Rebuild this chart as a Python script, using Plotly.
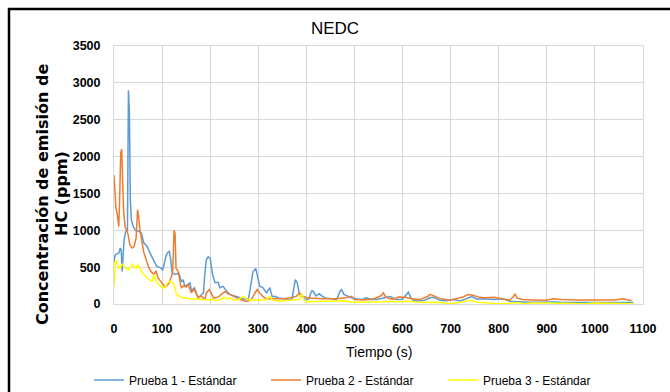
import plotly.graph_objects as go

# ---- data ----
t1 = [0, 2, 5, 10, 13, 15, 17, 19, 21, 24, 28, 30, 32, 34, 36, 40, 45, 52, 57, 62, 69, 75, 78, 83, 89, 97, 101, 105, 108, 112, 115, 118, 121, 128, 135, 140, 144, 147, 153, 158, 161, 167, 175, 182, 186, 189, 192, 196, 200, 205, 210, 217, 220, 227, 234, 241, 252, 262, 272, 280, 286, 289, 295, 298, 303, 310, 317, 324, 329, 335, 342, 352, 362, 370, 374, 377, 381, 385, 390, 399, 405, 411, 414, 420, 427, 432, 439, 450, 463, 470, 473, 478, 485, 494, 504, 515, 525, 535, 546, 560, 574, 588, 600, 612, 617, 622, 636, 645, 657, 665, 678, 690, 706, 720, 733, 744, 755, 768, 790, 809, 823, 840, 860, 880, 900, 915, 930, 962, 1000, 1040, 1080]
v1 = [560, 660, 680, 690, 760, 730, 440, 700, 870, 980, 1000, 2900, 2600, 1400, 1150, 1050, 1000, 985, 960, 830, 780, 690, 650, 580, 510, 490, 465, 560, 650, 700, 715, 600, 420, 400, 420, 300, 330, 240, 270, 285, 175, 220, 85, 120, 150, 420, 600, 640, 620, 400, 290, 290, 220, 240, 175, 130, 110, 85, 65, 80, 330, 440, 480, 375, 240, 220, 150, 220, 100, 105, 83, 70, 60, 65, 195, 330, 286, 150, 105, 60, 70, 175, 175, 110, 140, 110, 83, 70, 60, 175, 195, 130, 110, 83, 70, 60, 83, 60, 60, 83, 100, 60, 65, 160, 90, 50, 40, 50, 85, 90, 50, 45, 60, 40, 70, 100, 65, 70, 60, 70, 38, 30, 25, 25, 30, 28, 25, 23, 25, 20, 20]

t2 = [0, 2, 4, 6, 8, 10, 12, 14, 16, 18, 20, 23, 26, 29, 33, 38, 42, 46, 49, 51, 54, 58, 62, 67, 72, 78, 83, 87, 92, 98, 102, 106, 110, 114, 118, 122, 125, 127, 129, 133, 140, 146, 150, 154, 158, 161, 165, 170, 175, 180, 186, 189, 192, 198, 202, 207, 214, 220, 227, 231, 236, 241, 250, 262, 276, 286, 293, 298, 303, 310, 317, 324, 335, 350, 365, 379, 386, 392, 405, 420, 435, 460, 480, 494, 500, 520, 540, 556, 560, 565, 574, 582, 591, 605, 620, 636, 653, 657, 668, 680, 698, 712, 726, 736, 746, 757, 770, 790, 809, 823, 831, 834, 838, 850, 870, 899, 913, 930, 960, 1000, 1040, 1059, 1070, 1076]
v2 = [1750, 1450, 1300, 1250, 1100, 1050, 1500, 2050, 2100, 1600, 1250, 1050, 1000, 950, 800, 760, 780, 900, 1280, 1200, 1000, 820, 700, 600, 500, 430, 400, 450, 350, 300, 260, 230, 250, 280, 350, 420, 1000, 950, 480, 450, 220, 250, 230, 265, 200, 150, 200, 160, 85, 110, 80, 60, 150, 195, 150, 80, 90, 110, 150, 170, 140, 130, 100, 60, 35, 65, 150, 195, 150, 100, 70, 70, 60, 70, 80, 105, 150, 105, 80, 70, 70, 70, 80, 105, 60, 55, 70, 115, 150, 95, 70, 65, 95, 90, 70, 60, 105, 130, 105, 70, 50, 70, 95, 130, 120, 95, 85, 90, 70, 50, 105, 140, 80, 60, 55, 50, 70, 60, 55, 55, 55, 70, 55, 45]

t3 = [0, 3, 6, 9, 12, 15, 18, 22, 26, 30, 34, 38, 42, 46, 49, 53, 59, 66, 73, 80, 83, 86, 90, 97, 101, 106, 111, 116, 123, 127, 130, 137, 144, 155, 167, 180, 194, 203, 210, 220, 229, 235, 241, 250, 258, 269, 275, 285, 300, 315, 324, 330, 345, 360, 375, 385, 390, 395, 400, 430, 460, 480, 495, 520, 546, 560, 574, 590, 610, 643, 670, 699, 720, 740, 755, 780, 800, 823, 840, 850, 870, 900, 930, 960, 980, 1000, 1040, 1080]
v3 = [240, 590, 560, 500, 470, 520, 540, 500, 480, 460, 500, 540, 500, 480, 530, 500, 420, 375, 330, 310, 400, 340, 285, 240, 215, 230, 285, 310, 285, 220, 130, 100, 85, 75, 70, 60, 55, 65, 50, 55, 90, 70, 80, 50, 60, 105, 70, 55, 60, 55, 100, 50, 40, 45, 50, 60, 140, 60, 30, 35, 35, 45, 25, 25, 35, 30, 38, 30, 38, 20, 25, 5, 25, 50, 25, 15, 5, 10, 20, 5, 15, 15, 10, 15, 5, 15, 10, 5]

series_names = ["Prueba 1 - Estándar", "Prueba 2 - Estándar", "Prueba 3 - Estándar"]
series_colors = ["#5B9BD5", "#ED7D31", "#FFFF00"]

title_text = "NEDC"
x_title = "Tiempo (s)"
y_title_lines = ["Concentración de emisión de", "HC (ppm)"]

SANS = "Liberation Sans, Arial, sans-serif"

fig = go.Figure()
for t, v, name, col in zip([t1, t2, t3], [v1, v2, v3], series_names, series_colors):
    fig.add_trace(go.Scatter(x=t, y=v, mode="lines", name=name,
                             line=dict(color=col, width=1.5)))

W, H = 670, 392
L, R, T, B = 114, 27, 46, 88
pw, ph = W - L - R, H - T - B

def px_x(px):
    return (px - L) / pw

def px_y(py):
    return (H - B - py) / ph

fig.update_layout(
    width=W, height=H,
    margin=dict(l=L, r=R, t=T, b=B, autoexpand=False),
    paper_bgcolor="white", plot_bgcolor="white",
    title=dict(text=title_text, x=0.5, xanchor="center", y=1 - 28 / H, yanchor="middle",
               font=dict(family=SANS, size=17, color="#000000")),
    showlegend=True,
    legend=dict(orientation="h", x=px_x(89), xanchor="left", y=px_y(380), yanchor="middle",
                font=dict(family=SANS, size=12, color="#000000"),
                entrywidth=132, entrywidthmode="pixels",
                bgcolor="rgba(0,0,0,0)", tracegroupgap=0),
    font=dict(family=SANS, color="#000000"),
)

fig.update_xaxes(range=[0, 1100], dtick=100, tick0=0, automargin=False,
                 showgrid=True, gridcolor="#D9D9D9", gridwidth=1,
                 zeroline=False, showline=True, linecolor="#D9D9D9", mirror=True,
                 ticks="outside", ticklen=13, tickcolor="rgba(0,0,0,0)",
                 tickfont=dict(family=SANS, size=12.5, color="#000000", weight="bold"))
fig.update_yaxes(range=[0, 3500], dtick=500, tick0=0, automargin=False,
                 showgrid=True, gridcolor="#D9D9D9", gridwidth=1,
                 zeroline=False, showline=True, linecolor="#D9D9D9", mirror=True,
                 ticks="outside", ticklen=10, tickcolor="rgba(0,0,0,0)",
                 tickfont=dict(family=SANS, size=12.5, color="#000000", weight="bold"))

# axis titles
fig.add_annotation(text=x_title, xref="paper", yref="paper", x=0.5, y=px_y(352),
                   xanchor="center", yanchor="middle", showarrow=False,
                   font=dict(family=SANS, size=14, color="#000000"))
fig.add_annotation(text=y_title_lines[0], xref="paper", yref="paper", x=px_x(42), y=px_y(195),
                   xanchor="center", yanchor="middle", showarrow=False, textangle=-90,
                   font=dict(family="DejaVu Sans", size=16, color="#000000", weight="bold"))
fig.add_annotation(text=y_title_lines[1], xref="paper", yref="paper", x=px_x(61), y=px_y(194),
                   xanchor="center", yanchor="middle", showarrow=False, textangle=-90,
                   font=dict(family="DejaVu Sans", size=16, color="#000000", weight="bold"))

# chart outer border (top and left visible)
fig.add_shape(type="rect", xref="paper", yref="paper",
              x0=px_x(9), x1=px_x(720), y0=px_y(9), y1=px_y(420),
              line=dict(color="#000000", width=2.5), fillcolor="rgba(0,0,0,0)", layer="above")

fig.write_html("out.html", config={"displayModeBar": False},
               post_script="document.body.style.margin='0';document.body.style.overflow='hidden';")
